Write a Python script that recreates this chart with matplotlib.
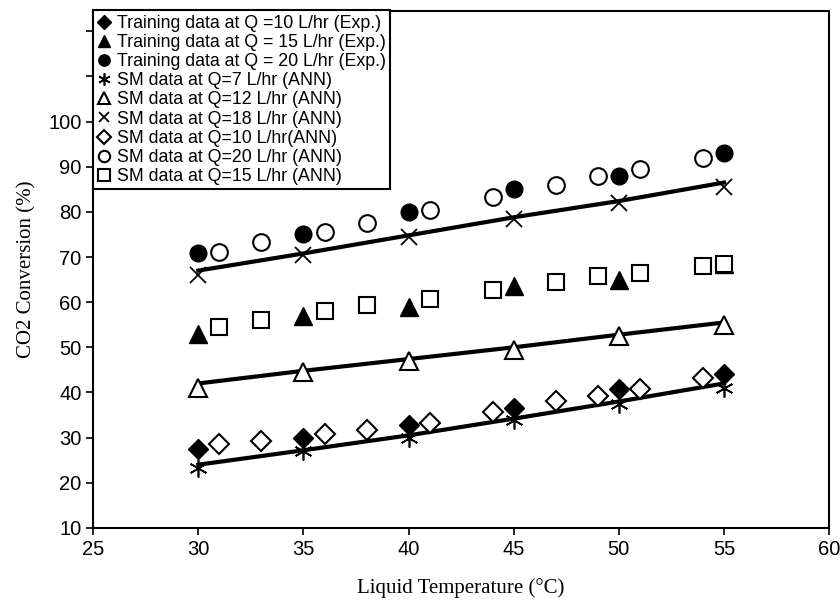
import matplotlib.pyplot as plt
import numpy as np

plt.rcParams['font.family'] = ['Liberation Sans', 'DejaVu Sans']

# temperatures
t_train = [30, 35, 40, 45, 50, 55]
t_sm = [31, 33, 36, 38, 41, 44, 47, 49, 51, 54]
t_sm15 = [31, 33, 36, 38, 41, 44, 47, 49, 51, 54, 55]

# training (experimental) data
train_q10 = [27.5, 30.0, 32.8, 36.5, 40.8, 44.0]
train_q15 = [53.0, 57.0, 59.0, 63.5, 65.0, 68.5]
train_q20 = [71.0, 75.0, 80.0, 85.0, 88.0, 93.0]

# ANN surrogate data at the training temperatures
sm_q7 = [23.2, 27.0, 30.0, 34.0, 37.5, 41.0]
sm_q12 = [41.0, 44.5, 47.0, 49.5, 52.5, 55.0]
sm_q18 = [66.0, 70.5, 74.5, 78.5, 82.0, 85.5]

# ANN surrogate data at intermediate temperatures
sm_q10 = [28.5, 29.3, 30.8, 31.6, 33.2, 35.6, 38.0, 39.3, 40.8, 43.2]
sm_q20 = [71.2, 73.3, 75.6, 77.6, 80.5, 83.2, 86.0, 88.0, 89.6, 92.0]
sm_q15 = [54.5, 56.0, 58.0, 59.3, 60.8, 62.8, 64.5, 65.7, 66.5, 68.0, 68.5]

# trend lines
line_q7 = [24.0, 27.2, 30.5, 34.2, 38.0, 42.0]
line_q12 = [42.0, 44.8, 47.4, 50.0, 52.8, 55.5]
line_q18 = [67.0, 70.8, 74.8, 78.8, 82.4, 86.5]

fig = plt.figure(figsize=(8.4, 6.11), dpi=100)
ax = fig.add_axes([0.111, 0.136, 0.876, 0.846])

for ly in [line_q7, line_q12, line_q18]:
    ax.plot(t_train, ly, color='black', lw=3, zorder=2)

ax.plot(t_train, train_q10, 'D', color='black', ms=10, ls='none', label='Training data at Q =10 L/hr (Exp.)', zorder=3)
ax.plot(t_train, train_q15, '^', color='black', ms=13, ls='none', label='Training data at Q = 15 L/hr (Exp.)', zorder=3)
ax.plot(t_train, train_q20, 'o', color='black', ms=12, ls='none', label='Training data at Q = 20 L/hr (Exp.)', zorder=3)
ax.plot(t_train, sm_q7, marker=(6, 2, 0), color='black', ms=13, mew=1.2, ls='none', label='SM data at Q=7 L/hr (ANN)', zorder=4)
ax.plot(t_train, sm_q12, '^', mfc='white', mec='black', ms=13, mew=1.5, ls='none', label='SM data at Q=12 L/hr (ANN)', zorder=4)
ax.plot(t_train, sm_q18, 'x', color='black', ms=11, mew=1.3, ls='none', label='SM data at Q=18 L/hr (ANN)', zorder=4)
ax.plot(t_sm, sm_q10, 'D', mfc='white', mec='black', ms=10, mew=1.5, ls='none', label='SM data at Q=10 L/hr(ANN)', zorder=4)
ax.plot(t_sm, sm_q20, 'o', mfc='white', mec='black', ms=12, mew=1.5, ls='none', label='SM data at Q=20 L/hr (ANN)', zorder=4)
ax.plot(t_sm15, sm_q15, 's', mfc='white', mec='black', ms=12, mew=1.5, ls='none', label='SM data at Q=15 L/hr (ANN)', zorder=4)

ax.set_xlim(25, 60)
ax.set_ylim(10, 124.5)
ax.set_xticks(np.arange(25, 61, 5))
yt = np.arange(10, 121, 10)
ax.set_yticks(yt)
ax.set_yticklabels([str(v) if v <= 100 else '' for v in yt])
ax.tick_params(labelsize=14.5, direction='out', length=5, width=1.2, top=False, right=False)
for s in ax.spines.values():
    s.set_linewidth(1.5)

ax.set_xlabel('Liquid Temperature (°C)', family='Liberation Serif', fontsize=15, labelpad=14)
ax.set_ylabel('CO2 Conversion (%)', family='Liberation Serif', fontsize=15, labelpad=8)

leg = ax.legend(loc='upper left', bbox_to_anchor=(-0.001, 1.001), fontsize=12.8, frameon=True, fancybox=False,
                edgecolor='black', framealpha=1, handlelength=0.8, handletextpad=0.3, borderpad=0.25,
                labelspacing=0.12, markerscale=0.68, borderaxespad=0)
leg.get_frame().set_linewidth(1.5)

fig.savefig('out.png', dpi=100)
